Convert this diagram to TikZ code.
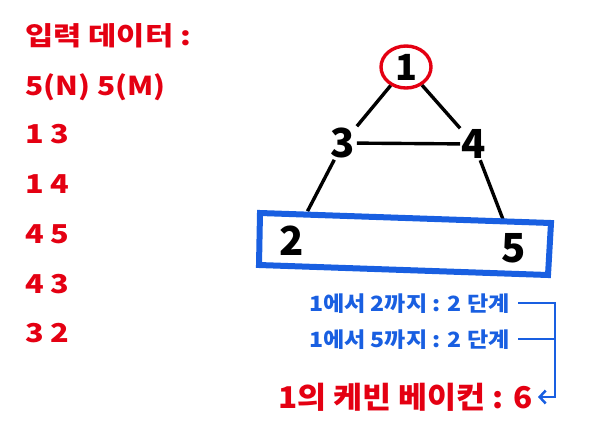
\documentclass[tikz,border=0pt]{standalone}
\usepackage{fontspec}
\setmainfont{Noto Sans CJK KR}[UprightFont=* Black]
\usetikzlibrary{shapes.geometric,arrows.meta}
\definecolor{myred}{RGB}{228,0,18}
\definecolor{myblue}{RGB}{25,95,225}
\newcommand\widertext[2]{\scalebox{#1}[1]{#2}}
\begin{document}
\begin{tikzpicture}[x=1pt,y=-1pt,
  lefttxt/.style={anchor=base west, inner sep=0pt, text=myred, font=\fontsize{26}{26}\selectfont},
  num/.style={inner sep=1.5pt, font=\fontsize{40}{40}\selectfont},
  link/.style={line width=3.4pt},
  bluetxt/.style={anchor=base east, inner sep=0pt, text=myblue, font=\fontsize{21}{21}\selectfont},
  bline/.style={draw=myblue, line width=2.5pt}]
\useasboundingbox (0,0) rectangle (600,440);
% left input data
\node[lefttxt] (l0) at (25,45) {\widertext{1.18}{입력 데이터 :}};
\node[lefttxt] (l1) at (25,95) {\widertext{1.15}{5(N) 5(M)}};
\node[lefttxt] (l2) at (25,143) {\widertext{1.18}{1 3}};
\node[lefttxt] (l3) at (25,193) {\widertext{1.18}{1 4}};
\node[lefttxt] (l4) at (25,243) {\widertext{1.18}{4 5}};
\node[lefttxt] (l5) at (25,293) {\widertext{1.18}{4 3}};
\node[lefttxt] (l6) at (25,342) {\widertext{1.18}{3 2}};
% graph
\node[ellipse, draw=myred, line width=3.4pt, minimum width=50pt, minimum height=42pt, inner sep=0pt,
      font=\fontsize{36}{36}\selectfont] (n1) at (406,67) {1};
\node[num] (n3) at (343,143) {3};
\node[num] (n4) at (474,144) {4};
\node[num] (n2) at (292,241) {2};
\node[num] (n5) at (514,248) {5};
\draw[link] (n1) -- (n3);
\draw[link] (n1) -- (n4);
\draw[link] (n3) -- (n4);
\draw[link, shorten >=15pt] (n3) -- (n2);
\draw[link, shorten >=12pt] (n4) -- (n5);
% blue box
\coordinate (b1) at (260,213);
\coordinate (b2) at (551,223);
\coordinate (b3) at (548,275);
\coordinate (b4) at (259,265);
\draw[myblue, line width=6pt] (b1) -- (b2) -- (b3) -- (b4) -- cycle;
% right texts
\node[bluetxt] (t1) at (510,311) {\widertext{1.1}{1에서 2까지 : 2 단계}};
\node[bluetxt] (t2) at (510,347) {\widertext{1.1}{1에서 5까지 : 2 단계}};
\node[anchor=base east, inner sep=0pt, text=myred, font=\fontsize{30}{30}\selectfont] (res) at (533,408) {\widertext{1.05}{1의 케빈 베이컨 : 6}};
\coordinate (turn) at (555,397);
\draw[bline, -{Straight Barb[length=6pt,width=13pt]}] (518,303) -| (turn) -- (538,397);
\draw[bline] (518,339) -- (555,339);
\end{tikzpicture}
\end{document}
